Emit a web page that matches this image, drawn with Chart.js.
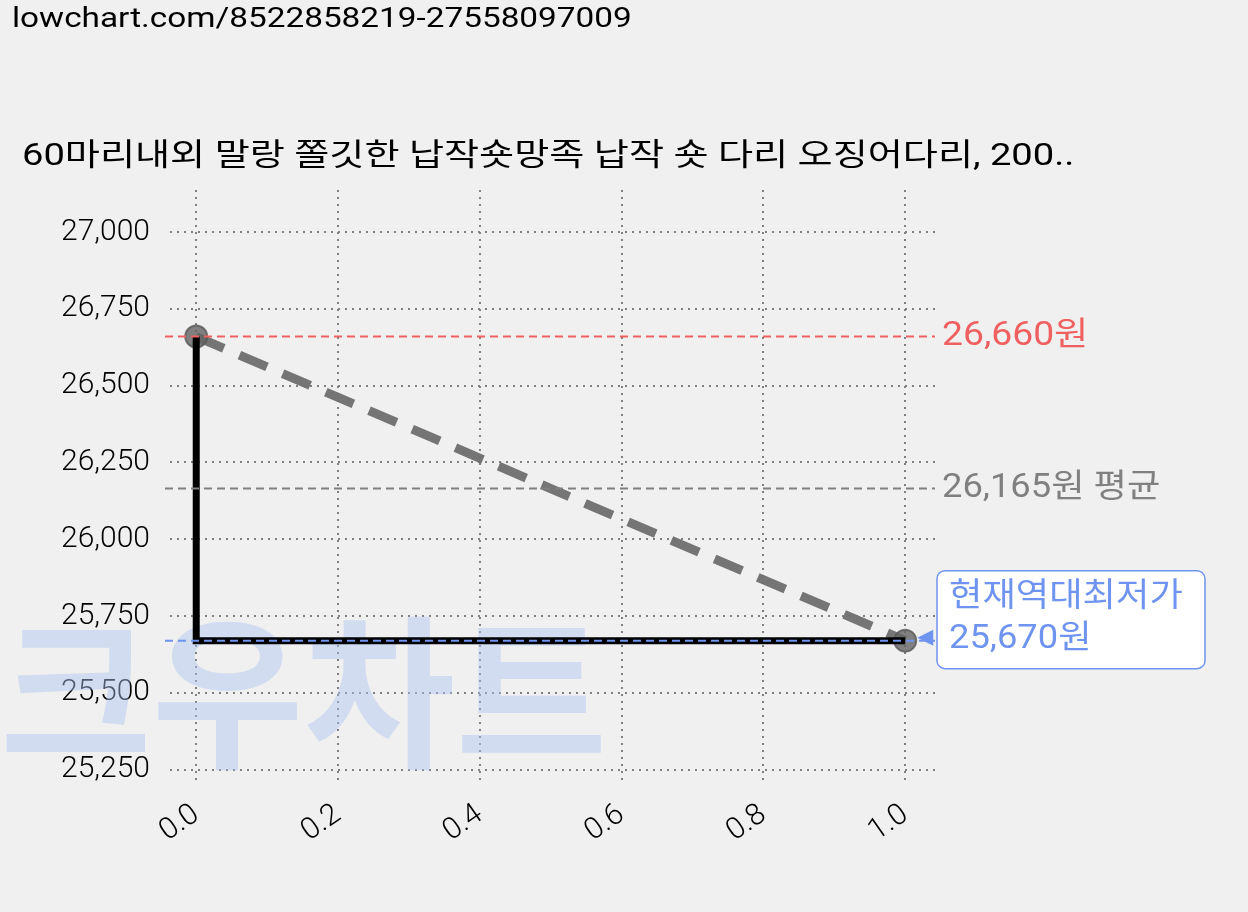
<!DOCTYPE html>
<html>
<head>
<meta charset="utf-8">
<script src="https://cdn.jsdelivr.net/npm/chart.js@4"></script>
<style>
  html, body { margin: 0; padding: 0; background: #f0f0f0; }
  #wrap { width: 1248px; height: 912px; }
</style>
</head>
<body>
<div id="wrap"><canvas id="c" width="1248" height="912"></canvas></div>
<script>
// 데이터
const headerText = 'lowchart.com/8522858219-27558097009';
const titleText = '60마리내외 말랑 쫄깃한 납작숏망족 납작 숏 다리 오징어다리, 200..';
const priceX = [0, 1];
const priceY = [26660, 25670];
const maxPrice = 26660;
const avgPrice = 26165;
const minPrice = 25670;
const yTicks = [25250, 25500, 25750, 26000, 26250, 26500, 26750, 27000];

const FONT = "Roboto, 'Noto Sans CJK KR', sans-serif";

// 가로로 늘린 글자
function wideText(ctx, text, x, y, sx) {
    ctx.save();
    ctx.translate(x, y);
    ctx.scale(sx, 1);
    ctx.fillText(text, 0, 0);
    ctx.restore();
}

// 가격선, 라벨, 워터마크
const overlay = {
    id: 'overlay',
    beforeDatasetsDraw(chart) {
        const ctx = chart.ctx;
        ctx.save();
        ctx.font = "bold 165px 'Noto Sans CJK KR'";
        ctx.fillStyle = 'rgba(170,195,240,0.45)';
        ctx.textBaseline = 'alphabetic';
        ctx.fillText('크우차트', 0, 755);
        ctx.restore();
    },
    afterDatasetsDraw(chart) {
        const ctx = chart.ctx;
        const y = chart.scales.y;
        const x = chart.scales.x;
        const left = chart.chartArea.left - 5, right = chart.chartArea.right;
        const lines = [
            {v: maxPrice, c: '#f06060'},
            {v: avgPrice, c: '#808080'},
            {v: minPrice, c: '#6f94f0'}
        ];
        ctx.save();
        ctx.lineWidth = 2;
        ctx.setLineDash([8, 5]);
        lines.forEach(l => {
            ctx.strokeStyle = l.c;
            ctx.beginPath();
            ctx.moveTo(left, y.getPixelForValue(l.v));
            ctx.lineTo(right, y.getPixelForValue(l.v));
            ctx.stroke();
        });
        ctx.setLineDash([]);
        ctx.font = '33px ' + FONT;
        ctx.textBaseline = 'middle';
        ctx.fillStyle = '#f06060';
        wideText(ctx, maxPrice.toLocaleString() + '원', right + 7, y.getPixelForValue(maxPrice), 1.13);
        ctx.fillStyle = '#808080';
        wideText(ctx, avgPrice.toLocaleString() + '원 평균', right + 7, y.getPixelForValue(avgPrice), 1.1);

        // 최저가 박스
        const py = y.getPixelForValue(minPrice);
        const px = x.getPixelForValue(1);
        const bx = 937, by = py - 70, bw = 268, bh = 98;
        ctx.fillStyle = '#ffffff';
        ctx.strokeStyle = '#6f94f0';
        ctx.lineWidth = 1.5;
        ctx.beginPath();
        ctx.roundRect(bx, by, bw, bh, 8);
        ctx.fill();
        ctx.stroke();
        ctx.fillStyle = '#6f94f0';
        ctx.beginPath();
        ctx.moveTo(px + 12, py - 3);
        ctx.lineTo(px + 28, py - 11);
        ctx.lineTo(px + 28, py + 5);
        ctx.closePath();
        ctx.fill();
        wideText(ctx, '현재역대최저가', bx + 12, by + 27, 1.1);
        wideText(ctx, minPrice.toLocaleString() + '원', bx + 12, by + 69, 1.1);
        ctx.restore();
    },
    afterDraw(chart) {
        const ctx = chart.ctx;
        ctx.save();
        ctx.fillStyle = '#000';
        ctx.textBaseline = 'alphabetic';
        ctx.font = "28px " + FONT;
        wideText(ctx, headerText, 12, 27, 1.19);
        ctx.font = "31px " + FONT;
        wideText(ctx, titleText, 22, 165, 1.23);
        ctx.restore();
    }
};

const bg = {
    id: 'bg',
    beforeDraw(chart) {
        const ctx = chart.ctx;
        ctx.save();
        ctx.fillStyle = '#f0f0f0';
        ctx.fillRect(0, 0, chart.width, chart.height);
        ctx.restore();
    }
};

const pts = priceX.map((v, i) => ({x: v, y: priceY[i]}));
const stepPts = [
    {x: priceX[0], y: priceY[0]},
    {x: priceX[0], y: minPrice},
    {x: priceX[1], y: minPrice}
];

new Chart(document.getElementById('c'), {
    type: 'line',
    data: {
        datasets: [
            {
                data: stepPts,
                borderColor: '#000',
                borderWidth: 7,
                pointRadius: 0,
                fill: false
            },
            {
                data: pts,
                borderColor: 'rgba(110,110,110,0.95)',
                borderWidth: 9,
                borderDash: [30, 17],
                pointRadius: 11,
                pointBackgroundColor: 'rgba(100,100,100,0.8)',
                pointBorderColor: 'rgba(90,90,90,0.8)',
                pointBorderWidth: 2,
                fill: false
            }
        ]
    },
    options: {
        responsive: false,
        animation: false,
        layout: { padding: { top: 190, right: 313, left: 0, bottom: 0 } },
        plugins: { legend: { display: false }, tooltip: { enabled: false } },
        scales: {
            x: {
                type: 'linear',
                min: -0.037,
                max: 1.042,
                afterBuildTicks: s => { s.ticks = [0, 0.2, 0.4, 0.6, 0.8, 1].map(v => ({value: v})); },
                afterFit: s => { s.height = 127; },
                grid: { color: '#808080', lineWidth: 2, drawTicks: false },
                border: { display: false, dash: [2, 5] },
                ticks: {
                    color: '#000',
                    font: { size: 30, family: FONT, weight: '300' },
                    maxRotation: 35, minRotation: 35,
                    padding: 12,
                    callback: v => v.toFixed(1)
                }
            },
            y: {
                min: 25200,
                max: 27137,
                afterBuildTicks: s => { s.ticks = yTicks.map(v => ({value: v})); },
                afterFit: s => { s.width = 170; },
                grid: { color: '#808080', lineWidth: 2, drawTicks: false },
                border: { display: false, dash: [2, 5] },
                ticks: {
                    color: '#000',
                    font: { size: 30, family: FONT, weight: '300' },
                    padding: 20,
                    callback: v => v.toLocaleString()
                }
            }
        }
    },
    plugins: [bg, overlay]
});
</script>
</body>
</html>
